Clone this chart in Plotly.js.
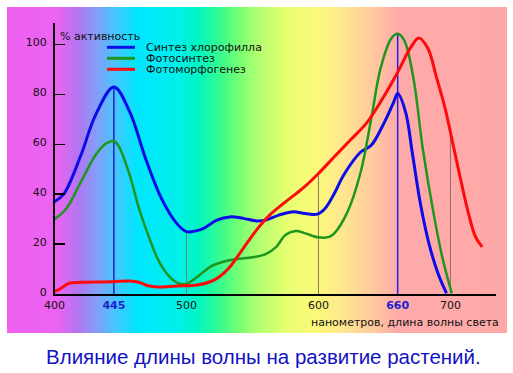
<!DOCTYPE html>
<html>
<head>
<meta charset="utf-8">
<script src="https://cdn.plot.ly/plotly-3.0.1.min.js"></script>
<style>html,body{margin:0;padding:0;background:#fff;}#chart{width:513px;height:373px;}</style>
</head>
<body>
<div id="chart"></div>
<script>
// ---- data (wavelength, nm ; activity, %) ----
const seriesNames = ["Синтез хлорофилла", "Фотосинтез", "Фотоморфогенез"];

const blueX = [400, 407, 420, 431, 445, 457, 469, 481, 493, 500, 507, 513, 523, 533, 543, 553, 560, 570, 580, 590, 599, 605, 612, 619, 632, 640, 650, 657, 660, 666, 671, 677, 684, 691, 697];
const blueY = [37, 40, 55.6, 71.6, 83, 73, 54.3, 38.3, 28, 25, 25.3, 26.3, 29.6, 30.9, 30.3, 29.3, 29.6, 31.6, 32.9, 32.3, 32, 34.3, 40.3, 47.6, 56.9, 59.6, 68.9, 76.9, 80.3, 72.9, 56.9, 36.9, 19.6, 7.6, 0.3];

const greenX = [400, 409, 420, 431, 439, 445, 449, 457, 464, 471, 478, 486, 493, 500, 503, 510, 518, 528, 538, 550, 560, 568, 575, 583, 590, 600, 608, 612, 622, 632, 640, 647, 655, 660, 665, 672, 679, 687, 694, 701];
const greenY = [30, 34.3, 44.9, 55.6, 60.3, 61.3, 58.9, 47.6, 34.3, 23.6, 14.3, 7.6, 4.5, 4, 4.9, 7.6, 10.9, 12.9, 14, 14.7, 16, 18.9, 23.6, 25.2, 24.3, 22.7, 22.9, 24.3, 32.9, 48.9, 70.3, 90.3, 102.3, 104.3, 101.6, 86.3, 58.3, 32.9, 14.3, 0.3];

const redX = [400, 405, 411, 420, 444, 457, 464, 471, 478, 493, 508, 518, 525, 533, 543, 553, 563, 575, 588, 600, 612, 624, 637, 650, 660, 670, 676, 683, 689, 696, 701, 707, 714, 719, 724];
const redY = [0.9, 2.3, 4.3, 4.7, 4.9, 5.2, 4.7, 3.3, 2.8, 3.2, 3.6, 4.9, 6.9, 10.9, 18.3, 25.6, 31.6, 36.9, 42.3, 48.3, 55, 61.6, 68.9, 79.6, 88.9, 98.9, 102.6, 98.3, 87.6, 74.3, 62.3, 47.6, 31.6, 22.9, 18.9];

// drop lines from the axis up to the curves
const dropX = [445, 500, 600, 660, 700];
const dropTop = [83, 25, 48.3, 104.3, 64];

// axis ticks
const xTickVals = [400, 445, 500, 600, 660, 700];
const xTickText = ["400", "445", "500", "600", "660", "700"];
const xTickHighlight = [false, true, false, false, true, false];
const yTickVals = [0, 20, 40, 60, 80, 100];

const chartTitle = "Влияние длины волны на развитие растений.";
const xTitle = "нанометров, длина волны света";
const yTitle = "% активность";

// ---- styles ----
const seriesColors = ["#0c0ce8", "#1e961e", "#ff0a0a"];
const seriesWidths = [3, 2.5, 3];
const dropColors = ["#2424b4", "#6a8a6a", "#857a55", "#2020e0", "#9a6a6a"];
const dropWidths = [1.5, 1, 1, 1.5, 1];
const FONT = "DejaVu Sans, Verdana, sans-serif";

// spectrum background (colour stops across the frame)
const bgScale = [
  [0.00, "#f060f0"], [0.10, "#ec64f2"], [0.14, "#b474f2"], [0.18, "#80a0f8"],
  [0.22, "#40c8ff"], [0.26, "#00e6ff"], [0.34, "#00f0ea"], [0.38, "#00f6c4"],
  [0.42, "#30fa94"], [0.46, "#70ff74"], [0.50, "#b0ff70"], [0.56, "#e8ff70"],
  [0.62, "#fcf87c"], [0.68, "#ffe292"], [0.74, "#ffc4a0"], [0.78, "#ffaaaa"],
  [1.00, "#ffa8a8"]
];

const traces = [];
// background
traces.push({
  type: "heatmap", x: [0, 1], y: [0, 1], z: [[0, 1], [0, 1]],
  zmin: 0, zmax: 1, colorscale: bgScale, zsmooth: "best",
  showscale: false, hoverinfo: "skip", xaxis: "x", yaxis: "y"
});
// drop lines
dropX.forEach((x, i) => {
  traces.push({
    type: "scatter", mode: "lines", x: [x, x], y: [0, dropTop[i]],
    line: {color: dropColors[i], width: dropWidths[i]},
    showlegend: false, hoverinfo: "skip", xaxis: "x2", yaxis: "y2"
  });
});
// curves
[[blueX, blueY], [greenX, greenY], [redX, redY]].forEach((s, i) => {
  traces.push({
    type: "scatter", mode: "lines", name: seriesNames[i], x: s[0], y: s[1],
    line: {color: seriesColors[i], width: seriesWidths[i], shape: "spline", smoothing: 1},
    showlegend: false, hoverinfo: "skip", xaxis: "x2", yaxis: "y2"
  });
});

// frame geometry (paper coords)
const L = 7, T = 7, W = 500, H = 326;
const px = v => (v - L) / W;
const py = v => (T + H - v) / H;

const legendY = [47.3, 58.3, 69.3];
const shapes = legendY.map((y, i) => ({
  type: "line", xref: "paper", yref: "paper",
  x0: px(107), x1: px(135), y0: py(y), y1: py(y),
  line: {color: seriesColors[i], width: 3}
}));
const annotations = legendY.map((y, i) => ({
  xref: "paper", yref: "paper", x: px(145), y: py(y), xanchor: "left", yanchor: "middle",
  text: seriesNames[i], showarrow: false, borderpad: 0,
  font: {family: FONT, size: 11, color: "#111"}
}));
annotations.push({
  xref: "paper", yref: "paper", x: px(58), y: py(36), xanchor: "left", yanchor: "middle",
  text: yTitle, showarrow: false, font: {family: FONT, size: 11, color: "#111"}
});
annotations.push({
  xref: "paper", yref: "paper", x: px(501), y: py(322), xanchor: "right", yanchor: "middle",
  text: xTitle, showarrow: false, font: {family: FONT, size: 11, color: "#111"}
});
annotations.push({
  xref: "paper", yref: "paper", x: px(263.5), y: py(356), xanchor: "center", yanchor: "middle",
  text: chartTitle, showarrow: false, font: {family: "Liberation Sans, Arial, sans-serif", size: 20.5, color: "#1212c4"}
});

const layout = {
  width: 513, height: 373,
  margin: {l: L, r: 513 - L - W, t: T, b: 373 - T - H, pad: 0},
  paper_bgcolor: "#ffffff", plot_bgcolor: "rgba(0,0,0,0)",
  hovermode: false, showlegend: false,
  xaxis: {domain: [0, 1], range: [0, 1], visible: false, fixedrange: true},
  yaxis: {domain: [0, 1], range: [0, 1], visible: false, fixedrange: true},
  xaxis2: {
    domain: [px(54.5), px(496)], anchor: "y2", range: [400, 734.5],
    showline: true, linecolor: "#000", linewidth: 1.5, showgrid: false, zeroline: false,
    ticks: "", tickmode: "array", tickvals: xTickVals,
    ticktext: xTickText.map((t, i) => xTickHighlight[i] ? '<b><span style="color:#2020d0">' + t + '</span></b>' : t),
    tickfont: {family: FONT, size: 11, color: "#111"}, fixedrange: true
  },
  yaxis2: {
    domain: [py(294), py(23)], anchor: "x2", range: [0, 108.6],
    showline: true, linecolor: "#000", linewidth: 1.5, showgrid: false, zeroline: false,
    ticks: "inside", ticklen: 10, tickwidth: 1.5, tickcolor: "#000",
    tickmode: "array", tickvals: yTickVals, ticklabelshift: -2, ticklabelstandoff: 4,
    tickfont: {family: FONT, size: 11, color: "#111"}, fixedrange: true
  },
  shapes: shapes,
  annotations: annotations
};

Plotly.newPlot("chart", traces, layout, {displayModeBar: false, staticPlot: true});
</script>
</body>
</html>
